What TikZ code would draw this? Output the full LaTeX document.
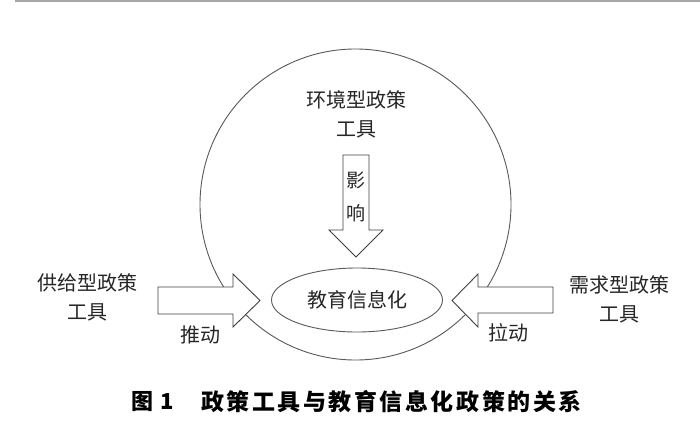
\documentclass[tikz,border=0pt]{standalone}
\usepackage{fontspec}
\usetikzlibrary{shapes.geometric}
\setmainfont{Noto Sans CJK SC}
\newfontfamily\capfont[LetterSpace=11]{Noto Sans CJK SC}
\newfontfamily\capfontb{Noto Sans CJK SC}
\begin{document}
\begin{tikzpicture}[x=1pt,y=-1pt,
  lbl/.style={font=\fontsize{20}{29}\selectfont, align=center, inner sep=0pt, text=black!85},
  blockarrow/.style={draw=black!75, line width=0.9pt, fill=white, line join=miter},
  ring/.style={draw=black!65, line width=0.9pt}]
\useasboundingbox (0,0) rectangle (700,423);
\fill[white] (0,0) rectangle (700,423);
\draw[black!35, line width=1.6pt] (15,0.8) -- (700,0.8);
% big circle
\node[ring, circle, minimum size=311pt, inner sep=0pt] (env) at (355.5,204.5) {};
% inner ellipse
\node[ring, ellipse, minimum width=171pt, minimum height=64pt, inner sep=0pt,
      font=\fontsize{20}{24}\selectfont, text=black!85] (edu) at (357,300) {教育信息化};
% block arrows
\draw[blockarrow] (343,155) -- (369,155) -- (369,230) -- (383,230) -- (356,257) -- (329,230) -- (343,230) -- cycle;
\draw[blockarrow] (158,287) -- (233,287) -- (233,274) -- (260,300.5) -- (233,327) -- (233,314) -- (158,314) -- cycle;
\draw[blockarrow] (553,287) -- (478,287) -- (478,274) -- (452,300.5) -- (478,327) -- (478,313) -- (553,313) -- cycle;
% labels
\node[lbl] (envlbl) at (356,114.5) {环境型政策\\工具};
\node[lbl, font=\fontsize{19}{33}\selectfont] (infl) at (356,196.5) {影\\响};
\node[lbl] (supply) at (87,297.5) {供给型政策\\工具};
\node[lbl] (demand) at (619,299.5) {需求型政策\\工具};
\node[lbl] (push) at (200,335) {推动};
\node[lbl] (pull) at (508,333) {拉动};
% caption
\node[inner sep=0pt, anchor=west, font=\capfontb\bfseries\fontsize{22}{26}\selectfont] (fig) at (131,402) {图\hspace{0.35em}1};
\node[inner sep=0pt, anchor=west, font=\capfont\bfseries\fontsize{23}{26}\selectfont] (cap) at (201,402) {政策工具与教育信息化政策的关系};
\end{tikzpicture}
\end{document}
